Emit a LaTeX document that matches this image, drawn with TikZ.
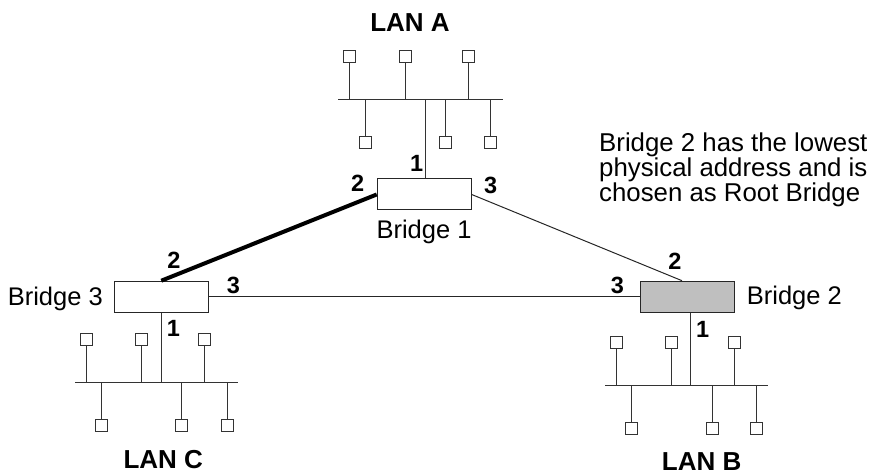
\documentclass[tikz,border=0pt]{standalone}
\usepackage{fontspec}
\setmainfont{Liberation Sans}
\begin{document}
\begin{tikzpicture}[x=1pt,y=-1pt,
  bridgebox/.style={draw=black!85,line width=1pt,minimum width=94pt,minimum height=31pt,inner sep=0pt,fill=white},
  station/.style={draw=black!80,line width=1pt,minimum size=12pt,inner sep=0pt,fill=white},
  wire/.style={draw=black!80,line width=1pt},
  link/.style={draw=black!85,line width=1pt},
  rootlink/.style={draw=black,line width=4pt},
  port/.style={font=\bfseries\fontsize{23.5}{23.5}\selectfont,inner sep=0pt},
  lantitle/.style={font=\bfseries\fontsize{26}{26}\selectfont,inner sep=0pt},
  blabel/.style={font=\fontsize{25.5}{25.5}\selectfont,inner sep=0pt}]
\useasboundingbox (0,0) rectangle (871,476);

% Bridges
\node[bridgebox] (b1) at (424.2,194.5) {};
\node[bridgebox] (b3) at (161.3,296.7) {};
\node[bridgebox,fill=black!25] (b2) at (687,296.7) {};

% Inter-bridge links
\draw[rootlink] (b1.west) -- (b3.north);
\draw[link] (b1.east) -- ([xshift=-5pt]b2.north);
\draw[link] (b3.east) -- (b2.west);

% LAN A
\coordinate (busAl) at (338,99.3);
\coordinate (busAr) at (502.7,99.3);
\draw[wire] (busAl) -- (busAr);
\node[station] (a1) at (349.3,56.5) {};
\node[station] (a2) at (405.3,56.5) {};
\node[station] (a3) at (468,56.5) {};
\node[station] (a4) at (365.3,142.7) {};
\node[station] (a5) at (445.7,142.7) {};
\node[station] (a6) at (490.7,142.7) {};
\foreach \s in {a1,a2,a3,a4,a5,a6} \draw[wire] (\s) -- (\s |- busAl);
\draw[wire] ([xshift=1pt]b1.north) -- ([xshift=1pt]b1.north |- busAl);
\node[lantitle] (lanA) at (410,22.5) {LAN A};

% LAN C
\coordinate (busCl) at (75,382.3);
\coordinate (busCr) at (238.3,382.3);
\draw[wire] (busCl) -- (busCr);
\node[station] (c1) at (86,339) {};
\node[station] (c2) at (141.3,339) {};
\node[station] (c3) at (204,339) {};
\node[station] (c4) at (101.7,425.5) {};
\node[station] (c5) at (181.7,425.5) {};
\node[station] (c6) at (227.7,425.5) {};
\foreach \s in {c1,c2,c3,c4,c5,c6} \draw[wire] (\s) -- (\s |- busCl);
\draw[wire] (b3.south) -- (b3.south |- busCl);
\node[lantitle] (lanC) at (163.3,460) {LAN C};

% LAN B
\coordinate (busBl) at (605,385.3);
\coordinate (busBr) at (768.3,385.3);
\draw[wire] (busBl) -- (busBr);
\node[station] (d1) at (616,342) {};
\node[station] (d2) at (671.7,342) {};
\node[station] (d3) at (734,342) {};
\node[station] (d4) at (631.7,428.5) {};
\node[station] (d5) at (712.3,428.5) {};
\node[station] (d6) at (756.7,428.5) {};
\foreach \s in {d1,d2,d3,d4,d5,d6} \draw[wire] (\s) -- (\s |- busBl);
\draw[wire] ([xshift=3pt]b2.south) -- ([xshift=3pt]b2.south |- busBl);
\node[lantitle] (lanB) at (701.7,462) {LAN B};

% Port numbers
\node[port] (p11) at (416.7,163.3) {1};
\node[port] (p12) at (357.7,183.3) {2};
\node[port] (p13) at (490.7,185.7) {3};
\node[port] (p32) at (174,260) {2};
\node[port] (p33) at (233.3,285) {3};
\node[port] (p31) at (173.3,328.3) {1};
\node[port] (p22) at (675,261.7) {2};
\node[port] (p23) at (617.3,285) {3};
\node[port] (p21) at (702.7,329) {1};

% Bridge labels
\node[blabel,anchor=base] (l1) at (424,239) {Bridge 1};
\node[blabel,anchor=base east] (l3) at (103,305) {Bridge 3};
\node[blabel,anchor=base west] (l2) at (746.7,304) {Bridge 2};

% Note
\node[font=\fontsize{25.8}{24}\selectfont,align=left,anchor=north west,inner sep=0pt] (note) at (599,133)
  {Bridge 2 has the lowest\\physical address and is\\chosen as Root Bridge};
\end{tikzpicture}
\end{document}
